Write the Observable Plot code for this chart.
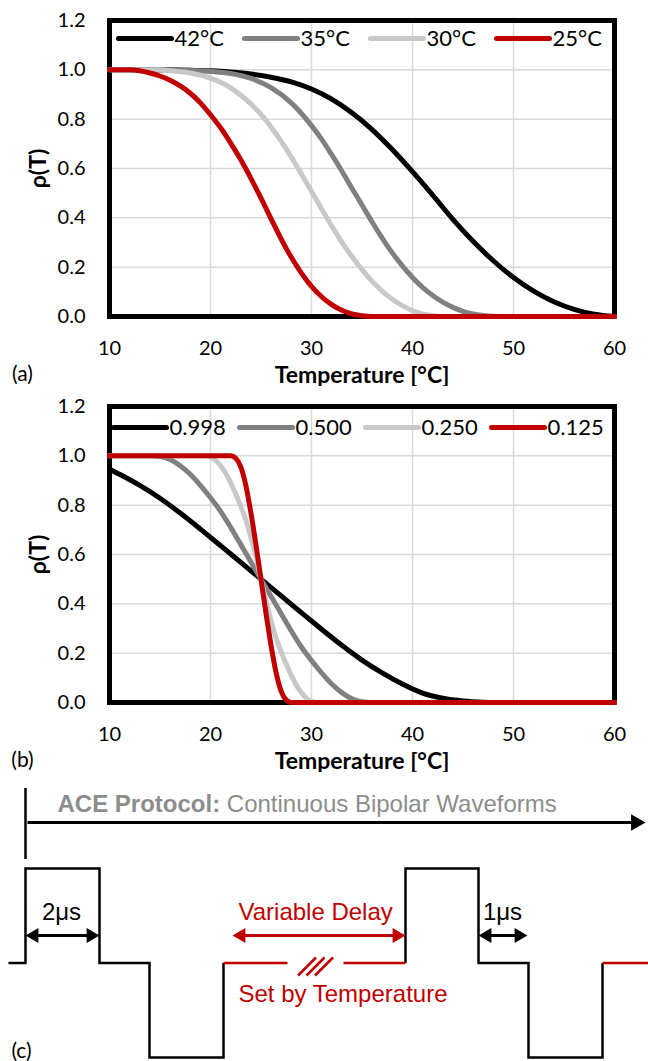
<!DOCTYPE html>
<html><head><meta charset="utf-8">
<script src="https://cdn.jsdelivr.net/npm/d3@7"></script>
<script src="https://cdn.jsdelivr.net/npm/@observablehq/plot@0.6"></script>
<style>
body{margin:0;background:#fff;}
#fig{position:relative;width:648px;height:1061px;overflow:hidden;background:#fff;}
#fig svg{position:absolute;left:0;}
</style></head><body><div id="fig"></div>
<script>
// ---------- DATA ----------
const xTicks = [10, 20, 30, 40, 50, 60];
const yTicks = [0, 0.2, 0.4, 0.6, 0.8, 1.0, 1.2];
const seriesA = ["42°C", "35°C", "30°C", "25°C"];
const seriesB = ["0.998", "0.500", "0.250", "0.125"];
const seriesColors = ["#000000", "#808080", "#c8c8c8", "#c00000"];

// panel (a): [temperature, rho]
const a42 = [[10,1],[16,1],[18,0.998],[20,0.996],[22,0.991],[24,0.983],[26,0.97],[28,0.951],[30,0.922],[32,0.881],[34,0.826],[36,0.758],[38,0.677],[40,0.587],[42,0.492],[44,0.394],[46,0.305],[48,0.226],[50,0.158],[52,0.103],[54,0.06],[56,0.029],[58,0.009],[60,0]];
const a35 = [[10,1],[16,1],[18,0.998],[20,0.994],[22,0.985],[24,0.965],[26,0.928],[28,0.866],[30,0.774],[31,0.719],[32,0.656],[33,0.59],[34,0.52],[35,0.452],[36,0.383],[37,0.318],[38,0.258],[39,0.205],[40,0.158],[41,0.118],[42,0.085],[43,0.058],[44,0.037],[45,0.021],[46,0.01],[47,0.004],[48,0.001],[49,0],[60,0]];
const a30 = [[10,1],[15,1],[16,0.996],[18,0.987],[20,0.966],[22,0.927],[24,0.862],[25,0.819],[26,0.768],[27,0.71],[28,0.646],[29,0.578],[30,0.507],[31,0.436],[32,0.367],[33,0.302],[34,0.243],[35,0.19],[36,0.143],[37,0.103],[38,0.07],[39,0.044],[40,0.024],[41,0.01],[42,0.003],[43,0],[60,0]];
const a25 = [[10,1],[12,1],[13,0.996],[14,0.987],[15,0.975],[16,0.958],[17,0.935],[18,0.905],[19,0.866],[20,0.818],[21,0.765],[22,0.703],[23,0.635],[24,0.56],[25,0.48],[26,0.396],[27,0.314],[28,0.24],[29,0.176],[30,0.122],[31,0.08],[32,0.048],[33,0.025],[34,0.01],[35,0.003],[36,0],[60,0]];

// panel (b)
const b998 = [[10,0.946],[11,0.925],[13,0.88],[15,0.828],[17,0.768],[19,0.703],[21,0.636],[23,0.568],[25,0.5],[27,0.432],[29,0.364],[31,0.297],[33,0.232],[35,0.172],[37,0.12],[39,0.075],[41,0.038],[43,0.017],[45,0.006],[47,0.001],[48,0],[60,0]];
const b500 = [[10,1],[14,1],[15,0.997],[16,0.985],[17,0.96],[18,0.925],[19,0.88],[20,0.83],[21,0.775],[22,0.71],[23,0.64],[24,0.57],[25,0.5],[26,0.43],[27,0.36],[28,0.29],[29,0.225],[30,0.17],[31,0.12],[32,0.075],[33,0.04],[34,0.015],[35,0.003],[36,0],[60,0]];
const b250 = [[10,1],[19.5,1],[20,0.995],[20.5,0.983],[21,0.96],[21.5,0.93],[22,0.89],[22.5,0.845],[23,0.795],[23.5,0.74],[24,0.67],[24.5,0.59],[25,0.5],[25.5,0.41],[26,0.33],[26.5,0.26],[27,0.205],[27.5,0.155],[28,0.11],[28.5,0.07],[29,0.04],[29.5,0.017],[30,0.005],[30.5,0],[60,0]];
const b125 = [[10,1],[22,1],[22.5,0.99],[23,0.955],[23.5,0.88],[24,0.77],[24.5,0.64],[25,0.5],[25.5,0.36],[26,0.23],[26.5,0.12],[27,0.045],[27.5,0.01],[28,0],[60,0]];

// panel (c): schematic waveform, [time (schematic units), level]
const pulse1 = [[8,0],[25,0],[25,1],[99,1],[99,0],[149,0],[149,-1],[223,-1],[223,0]];
const pulse2 = [[405,0],[405,1],[478,1],[478,0],[528,0],[528,-1],[602,-1],[602,0]];
const delaySegments = [[223,287],[343,405],[602,648]];
const breakCenter = 315;
const dims = [
  {t1: 25, t2: 99, label: "2μs", color: "#000000"},
  {t1: 232, t2: 405, label: "Variable Delay", color: "#c00000"},
  {t1: 478, t2: 527, label: "1μs", color: "#000000"}
];
const protocolBold = "ACE Protocol:";
const protocolText = "Continuous Bipolar Waveforms";
const delayNote = "Set by Temperature";

// ---------- LAYOUT ----------
const W = 648, H_AB = 386;
const PA = {left: 109, right: 614, top: 20, bottom: 316};
const toT = px => 10 + (px - PA.left) * 50 / (PA.right - PA.left);
const toRho = py => (PA.bottom - py) * 1.2 / (PA.bottom - PA.top);
const FONT_AB = "Lato, 'Open Sans', sans-serif";
const FONT_C = "'Liberation Sans', Arial, sans-serif";

function chart(names, curves, legStart, legY, tag) {
  const rows = curves.flatMap((c, i) => c.map(([T, r]) => ({T, r, s: names[i]})));
  const leg = names.map((n, i) => ({
    s: n,
    x1: toT(legStart + i * 126), x2: toT(legStart + i * 126 + 53),
    xt: toT(legStart + i * 126 + 56), y: toRho(legY)
  }));
  const grid = {stroke: "#d9d9d9", strokeOpacity: 1, strokeWidth: 1.5};
  return Plot.plot({
    width: W, height: H_AB,
    marginLeft: PA.left, marginRight: W - PA.right, marginTop: PA.top, marginBottom: H_AB - PA.bottom,
    x: {domain: [10, 60]},
    y: {domain: [0, 1.2]},
    color: {domain: names, range: seriesColors},
    style: {fontFamily: FONT_AB, background: "white", color: "#000", overflow: "visible"},
    marks: [
      Plot.gridX(xTicks, grid),
      Plot.gridY(yTicks, grid),
      Plot.axisX(xTicks, {tickSize: 0, tickPadding: 24, label: null, fontSize: 20, tickFormat: d => String(d)}),
      Plot.axisY(yTicks, {tickSize: 0, tickPadding: 24, label: null, fontSize: 20, tickFormat: d3.format(".1f")}),
      Plot.frame({stroke: "#000", strokeWidth: 5}),
      Plot.line(rows, {x: "T", y: "r", z: "s", stroke: "s", strokeWidth: 5, curve: "monotone-x"}),
      Plot.link(leg, {x1: "x1", x2: "x2", y1: "y", y2: "y", stroke: "s", strokeWidth: 5, strokeLinecap: "round"}),
      Plot.text(leg, {x: "xt", y: "y", text: "s", textAnchor: "start", fontSize: 22, fill: "#000"}),
      Plot.text(["Temperature [°C]"], {text: d => d, frameAnchor: "bottom", textAnchor: "middle", lineAnchor: "middle", dy: 59, fontWeight: "bold", fontSize: 23}),
      Plot.text(["ρ(T)"], {text: d => d, frameAnchor: "left", textAnchor: "middle", lineAnchor: "middle", dx: -71, rotate: -90, fontWeight: "bold", fontSize: 23}),
      Plot.text([tag], {text: d => d, frameAnchor: "bottom-left", textAnchor: "middle", lineAnchor: "middle", dx: -87, dy: 58, fontSize: 21})
    ]
  });
}

const fig = document.getElementById("fig");
const svgA = chart(seriesA, [a42, a35, a30, a25], 118, 38, "(a)");
svgA.style.top = "0px";
fig.appendChild(svgA);
const svgB = chart(seriesB, [b998, b500, b250, b125], 113, 427 - H_AB, "(b)");
svgB.style.top = H_AB + "px";
fig.appendChild(svgB);

// ---------- PANEL (c) ----------
const H_C = 289, C_TOP = 2 * H_AB;
const levelOf = pageY => (962.5 - pageY) / 94.5; // page px -> waveform level
const RED = "#c00000", GRAY = "#8c8c8c";

const ctx = document.createElement("canvas").getContext("2d");
ctx.font = `bold 24px "Liberation Sans"`;
const wBold = ctx.measureText(protocolBold).width;
ctx.font = `24px "Liberation Sans"`;
const wSpace = ctx.measureText(" ").width;

const dimY = levelOf(935), dimLabelY = levelOf(911.5);
const DIM_R = 5.5, DIM_TIP = 8.6, TL_R = 6.2, TL_TIP = 9.6;
const dimHeads = dims.flatMap(d => [
  {t: d.t1 + DIM_TIP, y: dimY, color: d.color, rot: -90},
  {t: d.t2 - DIM_TIP, y: dimY, color: d.color, rot: 90}
]);
const timelineY = levelOf(822);
const timelineEnd = 645;
const tlHead = [{t: timelineEnd - TL_TIP, y: timelineY, rot: 90}];

const slashes = [-1, 0, 1].map(i => ({x1: breakCenter + 8.5 * i - 9, x2: breakCenter + 8.5 * i + 9, y1: levelOf(975), y2: levelOf(957)}));

const svgC = Plot.plot({
  width: W, height: H_C, marginLeft: 0, marginRight: 0, marginTop: 96, marginBottom: 4,
  x: {domain: [0, 648], axis: null},
  y: {domain: [-1, 1], axis: null},
  style: {fontFamily: FONT_C, background: "white", overflow: "visible"},
  marks: [
    Plot.line(pulse1, {x: d => d[0], y: d => d[1], stroke: "#000", strokeWidth: 2.5, strokeLinejoin: "miter", strokeLinecap: "butt", strokeMiterlimit: 4}),
    Plot.line(pulse2, {x: d => d[0], y: d => d[1], stroke: "#000", strokeWidth: 2.5, strokeLinejoin: "miter", strokeLinecap: "butt", strokeMiterlimit: 4}),
    Plot.link(delaySegments, {x1: d => d[0], x2: d => d[1], y1: 0, y2: 0, stroke: RED, strokeWidth: 2.5}),
    Plot.link(slashes, {x1: "x1", x2: "x2", y1: "y1", y2: "y2", stroke: RED, strokeWidth: 2.5}),
    Plot.ruleX([25], {y1: levelOf(788), y2: levelOf(859), stroke: "#000", strokeWidth: 2.5}),
    Plot.link([0], {x1: 27, x2: timelineEnd - 8, y1: timelineY, y2: timelineY, stroke: "#000", strokeWidth: 3}),
    Plot.link(dims, {x1: d => d.t1 + 6, x2: d => d.t2 - 6, y1: dimY, y2: dimY, stroke: d => d.color, strokeWidth: 3.2}),
    Plot.dot(dimHeads, {x: "t", y: "y", r: DIM_R, symbol: "triangle", rotate: "rot", fill: d => d.color, stroke: "none"}),
    Plot.dot(tlHead, {x: "t", y: "y", r: TL_R, symbol: "triangle", rotate: "rot", fill: "#000", stroke: "none"}),
    Plot.text([protocolBold], {text: d => d, x: 57, y: levelOf(803.5), textAnchor: "start", fontWeight: "bold", fontSize: 24, fill: GRAY}),
    Plot.text([protocolText], {text: d => d, x: 57 + wBold + wSpace, y: levelOf(803.5), textAnchor: "start", fontSize: 24, fill: GRAY}),
    Plot.text([dims[0]], {text: "label", x: 61, y: dimLabelY, fontSize: 24, fill: "#000"}),
    Plot.text([dims[2]], {text: "label", x: 502, y: dimLabelY, fontSize: 24, fill: "#000"}),
    Plot.text([dims[1]], {text: "label", x: 238, y: dimLabelY, textAnchor: "start", fontSize: 24, fill: RED}),
    Plot.text([delayNote], {text: d => d, x: 238, y: levelOf(994), textAnchor: "start", fontSize: 24, fill: RED}),
    Plot.text(["(c)"], {text: d => d, x: 21, y: levelOf(1051), fontSize: 21, fontFamily: FONT_AB, fill: "#000"})
  ]
});
svgC.style.top = C_TOP + "px";
fig.appendChild(svgC);
</script>
</body></html>
